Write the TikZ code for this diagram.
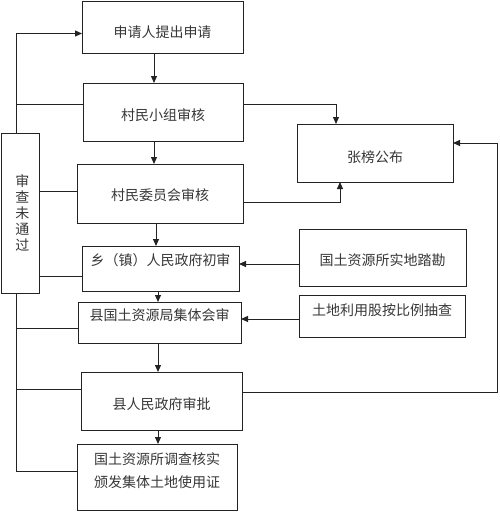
\documentclass[tikz,border=0pt]{standalone}
\usepackage{fontspec}
\newfontfamily\cjk{Noto Sans CJK SC}
\usetikzlibrary{arrows.meta}
\definecolor{lc}{RGB}{35,35,35}
\definecolor{tc}{RGB}{55,55,55}
\begin{document}
\begin{tikzpicture}[x=1pt,y=-1pt,
  box/.style={draw=lc,line width=1pt,inner sep=0pt,outer sep=0pt,rectangle},
  txt/.style={font=\cjk\fontsize{14}{23}\selectfont,text=tc,inner sep=0pt,align=center},
  vtxt/.style={font=\cjk\fontsize{14}{16}\selectfont,text=tc,inner sep=0pt,align=center},
  ln/.style={draw=lc,line width=1pt},
  arr/.style={ln,-{Triangle[length=7pt,width=6pt]}}]
\fill[white] (0,0) rectangle (500,512);
\useasboundingbox (0,0) rectangle (500,512);
% main column
\node[box,minimum width=161,minimum height=52] (b1) at (162.5,27) {};
\node[txt] (t1) at ([yshift=-5]b1.center) {申请人提出申请};
\node[box,minimum width=160,minimum height=58] (b2) at (163,112) {};
\node[txt] (t2) at ([yshift=-3]b2.center) {村民小组审核};
\node[box,minimum width=166,minimum height=59] (b3) at (160,193.5) {};
\node[txt] (t3) at ([yshift=-1.5]b3.center) {村民委员会审核};
\node[box,minimum width=157,minimum height=45] (b4) at (160.5,268.5) {};
\node[txt] (t4) at ([yshift=8.5]b4.center) {乡（镇）人民政府初审};
\node[box,minimum width=163,minimum height=41] (b5) at (159.5,322.5) {};
\node[txt] (t5) at ([yshift=7.5]b5.center) {县国土资源局集体会审};
\node[box,minimum width=161,minimum height=58] (b6) at (161.5,401) {};
\node[txt] (t6) at ([yshift=-3]b6.center) {县人民政府审批};
\node[box,minimum width=160,minimum height=66] (b7) at (157,477) {};
\node[txt] (t7) at ([yshift=6.5]b7.center) {国土资源所调查核实\\颁发集体土地使用证};
% left box
\node[box,minimum width=38,minimum height=160] (rej) at (20,213) {};
\node[vtxt] (trej) at ([xshift=2.5]rej.center) {审\\查\\未\\通\\过};
% right boxes
\node[box,minimum width=156,minimum height=58] (pub) at (375,153) {};
\node[txt] (tpub) at ([yshift=-4]pub.center) {张榜公布};
\node[box,minimum width=167,minimum height=57] (sv) at (382.5,257.5) {};
\node[txt] (tsv) at ([yshift=-2.5]sv.center) {国土资源所实地踏勘};
\node[box,minimum width=166,minimum height=42] (ck) at (382,316) {};
\node[txt] (tck) at ([yshift=6]ck.center) {土地利用股按比例抽查};
% main downward arrows
\draw[arr] ([xshift=-8.5]b1.south) -- ([xshift=-8.5]b1.south |- b2.north);
\draw[arr] ([xshift=-9]b2.south) -- ([xshift=-9]b2.south |- b3.north);
\draw[arr] ([xshift=-4]b3.south) -- ([xshift=-4]b3.south |- b4.north);
\draw[arr] ([xshift=-2.5]b4.south) -- ([xshift=-2.5]b4.south |- b5.north);
\draw[arr] ([xshift=-1.5]b5.south) -- ([xshift=-1.5]b5.south |- b6.north);
\draw[arr] ([xshift=-3.5]b6.south) -- ([xshift=-3.5]b6.south |- b7.north);
% left feedback lines
\coordinate (lt) at ([xshift=-4]rej.north);
\coordinate (lb) at ([xshift=-4]rej.south);
\draw[arr] (lt) |- ([yshift=-6.5]b1.west);
\draw[ln] ([yshift=8]b2.west) -- ([yshift=8]b2.west -| lt);
\draw[ln] ([yshift=2.5]b3.west) -- ([yshift=2.5]b3.west -| rej.east);
\draw[ln] ([yshift=-7.5]b4.west) -- ([yshift=-7.5]b4.west -| rej.east);
\draw[ln] (lb) |- ([yshift=6]b7.west);
\draw[ln] ([yshift=-5.5]b5.west) -- ([yshift=-5.5]b5.west -| lb);
\draw[ln] ([yshift=12]b6.west) -- ([yshift=12]b6.west -| lb);
% right side
\draw[arr] ([yshift=8]b2.east) -| ([xshift=-39]pub.north);
\draw[arr] ([yshift=-8.5]b3.east) -| ([xshift=-35]pub.south);
\coordinate (rloop) at (497,143);
\draw[arr] ([yshift=9]b6.east) -| (rloop) -- ([yshift=10]pub.east);
\draw[arr] ([yshift=-6.5]sv.west) -- ([yshift=-6.5]sv.west -| b4.east);
\draw[arr] ([yshift=-3]ck.west) -- ([yshift=-3]ck.west -| b5.east);
\end{tikzpicture}
\end{document}
